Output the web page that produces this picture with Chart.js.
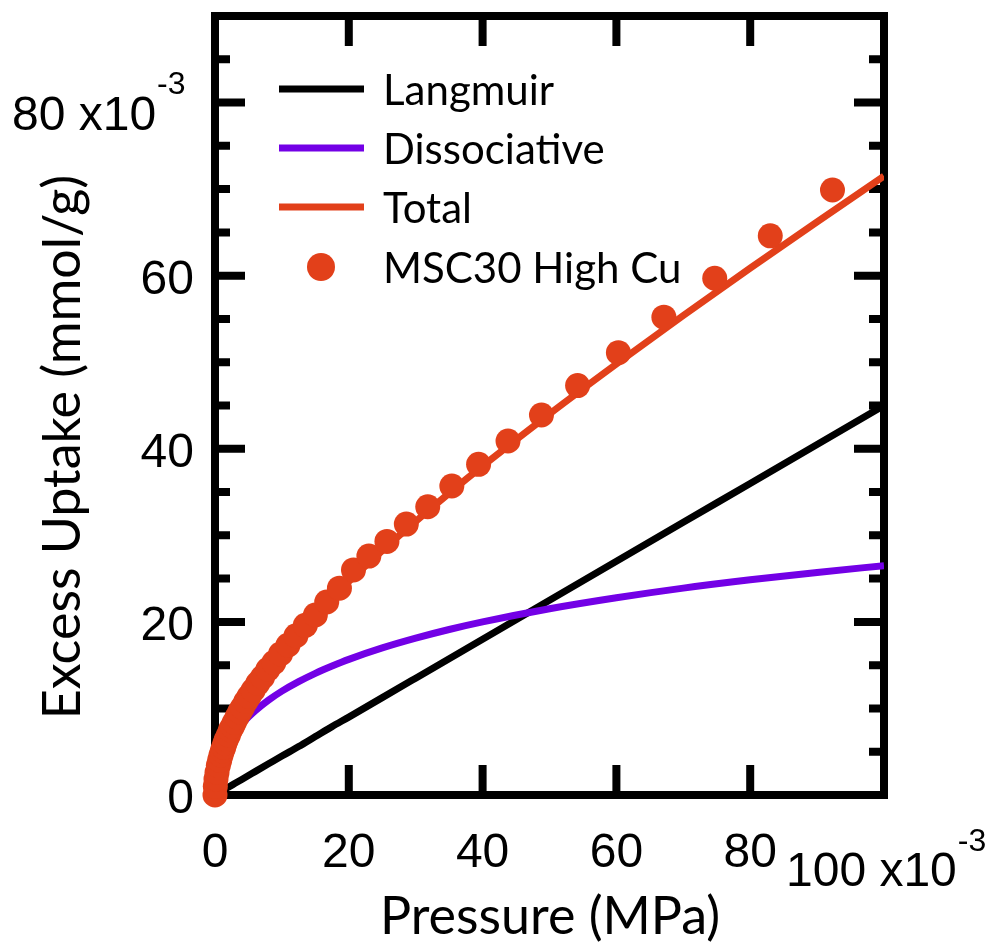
<!DOCTYPE html>
<html>
<head>
<meta charset="utf-8">
<title>Excess Uptake</title>
<script src="https://cdn.jsdelivr.net/npm/chart.js@4/dist/chart.umd.min.js"></script>
<style>
    html, body { margin: 0; padding: 0; background: #fff; }
    #c { display: block; }
</style>
</head>
<body>
<canvas id="c" width="996" height="944"></canvas>
<script>
// ======================
// Data (values in units of 10^-3)
// ======================

// fit curves: pressure (x10^-3 MPa)
const pressure = [0, 0.1, 0.25, 0.5, 1, 1.5, 2, 3, 4, 5, 6, 8, 10, 12.5, 15, 17.5, 20, 25, 30, 35, 40, 50, 60, 70, 80, 90, 100];
const langmuir = [0, 0.045, 0.11, 0.23, 0.45, 0.68, 0.9, 1.35, 1.8, 2.25, 2.7, 3.6, 4.5, 5.6, 6.75, 7.9, 9, 11.25, 13.5, 15.75, 18, 22.5, 27, 31.5, 36, 40.5, 45];
const dissociative = [0, 1.46, 2.28, 3.17, 4.39, 5.29, 6.03, 7.22, 8.18, 9.0, 9.73, 10.96, 12.0, 13.1, 14.06, 14.9, 15.67, 16.99, 18.12, 19.12, 20.0, 21.52, 22.79, 23.9, 24.86, 25.71, 26.5];
const total = [0, 1.50, 2.39, 3.40, 4.84, 5.97, 6.93, 8.57, 9.98, 11.25, 12.43, 14.56, 16.5, 18.73, 20.81, 22.78, 24.67, 28.24, 31.62, 34.87, 38.0, 44.02, 49.79, 55.4, 60.86, 66.21, 71.5];

// measured points: MSC30 High Cu
const measPressure = [0, 0.05, 0.15, 0.3, 0.5, 0.7, 0.9, 1.1, 1.3, 1.5, 1.7, 2.0, 2.3, 2.6, 2.9, 3.3, 3.7, 4.1, 4.6, 5.1, 5.7, 6.4, 7.1, 7.9, 8.8, 9.8, 10.9, 12.1, 13.5, 15.0, 16.7, 18.6, 20.7, 23.0, 25.7, 28.6, 31.8, 35.4, 39.4, 43.8, 48.8, 54.2, 60.3, 67.1, 74.7, 83.0, 92.3];
const measUptake = [0, 1.0, 1.85, 2.6, 3.4, 4.0, 4.6, 5.1, 5.5, 6.0, 6.4, 6.9, 7.5, 7.9, 8.4, 9.0, 9.6, 10.1, 10.8, 11.4, 12.1, 12.9, 13.6, 14.5, 15.3, 16.3, 17.3, 18.4, 19.6, 20.8, 22.3, 23.9, 26.0, 27.6, 29.3, 31.3, 33.3, 35.7, 38.2, 40.9, 43.9, 47.3, 51.1, 55.2, 59.7, 64.6, 69.9];

// axes
const xMajorTicks = [0, 20, 40, 60, 80, 100];
const yMajorTicks = [0, 20, 40, 60, 80];
const yMinorTicks = [5, 10, 15, 25, 30, 35, 45, 50, 55, 65, 70, 75, 85];
const xTickLabels = ['0', '20', '40', '60', '80', '100'];
const yTickLabels = ['0', '20', '40', '60', '80'];

const seriesNames = ['Langmuir', 'Dissociative', 'Total', 'MSC30 High Cu'];
const seriesColors = ['#000000', '#7300e6', '#e2401a', '#e2401a'];

const TICK_FONT = '48px "Liberation Sans", Arial, sans-serif';
const SUP_FONT = '32px "Liberation Sans", Arial, sans-serif';
const TEXT_FONT = '"Lato", "Noto Sans", sans-serif';

function toXY(xs, ys) {
    return xs.map((x, i) => ({ x: x, y: ys[i] }));
}

// ======================
// Frame, ticks, labels, legend
// ======================

const framePlugin = {
    id: 'frame',
    beforeDatasetsDraw(chart) {
        const { ctx, chartArea: a, scales } = chart;
        const xs = scales.x, ys = scales.y;
        ctx.save();
        ctx.strokeStyle = '#000';
        ctx.lineWidth = 8;
        ctx.lineCap = 'butt';
        ctx.strokeRect(a.left, a.top, a.right - a.left, a.bottom - a.top);

        // x ticks (inside, bottom and top)
        xMajorTicks.forEach(v => {
            const px = xs.getPixelForValue(v);
            ctx.beginPath();
            ctx.moveTo(px, a.bottom); ctx.lineTo(px, a.bottom - 30);
            ctx.moveTo(px, a.top); ctx.lineTo(px, a.top + 30);
            ctx.stroke();
        });
        // y ticks (inside, left and right)
        yMajorTicks.forEach(v => {
            const py = ys.getPixelForValue(v);
            ctx.beginPath();
            ctx.moveTo(a.left, py); ctx.lineTo(a.left + 30, py);
            ctx.moveTo(a.right, py); ctx.lineTo(a.right - 30, py);
            ctx.stroke();
        });
        yMinorTicks.forEach(v => {
            const py = ys.getPixelForValue(v);
            ctx.beginPath();
            ctx.moveTo(a.left, py); ctx.lineTo(a.left + 15, py);
            ctx.moveTo(a.right, py); ctx.lineTo(a.right - 15, py);
            ctx.stroke();
        });
        ctx.restore();
    },
    afterDraw(chart) {
        const { ctx, scales } = chart;
        const xs = scales.x, ys = scales.y;
        ctx.save();
        ctx.fillStyle = '#000';

        // y tick labels
        ctx.font = TICK_FONT;
        ctx.textBaseline = 'alphabetic';
        yMajorTicks.forEach((v, i) => {
            const py = ys.getPixelForValue(v);
            if (i === yMajorTicks.length - 1) {
                // top label carries the exponent
                ctx.textAlign = 'left';
                const txt = yTickLabels[i] + ' x10';
                ctx.fillText(txt, 12, py + 27);
                const w = ctx.measureText(txt).width;
                ctx.font = SUP_FONT;
                ctx.fillText('-3', 12 + w + 1, py - 9);
                ctx.font = TICK_FONT;
            } else {
                ctx.textAlign = 'right';
                ctx.fillText(yTickLabels[i], 194, py + 18);
            }
        });

        // x tick labels
        xMajorTicks.forEach((v, i) => {
            const px = xs.getPixelForValue(v);
            if (i === xMajorTicks.length - 1) {
                ctx.textAlign = 'left';
                const txt = xTickLabels[i] + ' x10';
                ctx.fillText(txt, 786, 886);
                const w = ctx.measureText(txt).width;
                ctx.font = SUP_FONT;
                ctx.fillText('-3', 786 + w + 1, 851);
                ctx.font = TICK_FONT;
            } else {
                ctx.textAlign = 'center';
                ctx.fillText(xTickLabels[i], px, 867);
            }
        });

        // axis titles
        ctx.font = '52px ' + TEXT_FONT;
        ctx.textAlign = 'center';
        ctx.fillText('Pressure (MPa)', 550, 934);
        ctx.save();
        ctx.translate(80, 447);
        ctx.rotate(-Math.PI / 2);
        ctx.fillText('Excess Uptake (mmol/g)', 0, 0);
        ctx.restore();

        // legend
        ctx.font = '42px ' + TEXT_FONT;
        ctx.textAlign = 'left';
        ctx.textBaseline = 'middle';
        const rowY = [89, 148, 207, 267];
        seriesNames.forEach((name, i) => {
            const y = rowY[i];
            if (i < 3) {
                ctx.strokeStyle = seriesColors[i];
                ctx.lineWidth = 7;
                ctx.beginPath();
                ctx.moveTo(279, y); ctx.lineTo(364, y);
                ctx.stroke();
            } else {
                ctx.fillStyle = seriesColors[i];
                ctx.beginPath();
                ctx.arc(321, y, 14, 0, Math.PI * 2);
                ctx.fill();
                ctx.fillStyle = '#000';
            }
            ctx.fillText(name, 383, y + 2);
        });
        ctx.restore();
    }
};

// ======================
// Chart
// ======================

const lineDefaults = {
    showLine: true,
    pointRadius: 0,
    borderWidth: 7,
    fill: false,
    cubicInterpolationMode: 'monotone'
};

new Chart(document.getElementById('c').getContext('2d'), {
    type: 'scatter',
    data: {
        datasets: [
            {
                label: seriesNames[3],
                data: toXY(measPressure, measUptake),
                backgroundColor: seriesColors[3],
                borderWidth: 0,
                pointRadius: 12.5,
                showLine: false,
                clip: false,
                order: 0
            },
            Object.assign({}, lineDefaults, {
                label: seriesNames[2],
                data: toXY(pressure, total),
                borderColor: seriesColors[2],
                order: 1
            }),
            Object.assign({}, lineDefaults, {
                label: seriesNames[1],
                data: toXY(pressure, dissociative),
                borderColor: seriesColors[1],
                order: 2
            }),
            Object.assign({}, lineDefaults, {
                label: seriesNames[0],
                data: toXY(pressure, langmuir),
                borderColor: seriesColors[0],
                order: 3
            })
        ]
    },
    options: {
        responsive: false,
        devicePixelRatio: 1,
        animation: false,
        layout: { padding: { left: 215, right: 112, top: 16, bottom: 149 } },
        plugins: {
            legend: { display: false },
            tooltip: { enabled: false }
        },
        scales: {
            x: { type: 'linear', min: 0, max: 100, display: false },
            y: { type: 'linear', min: 0, max: 90, display: false }
        }
    },
    plugins: [framePlugin]
});
</script>
</body>
</html>
